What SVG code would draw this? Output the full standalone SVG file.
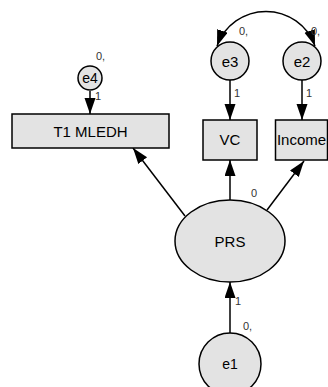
<svg xmlns="http://www.w3.org/2000/svg" width="328" height="387" viewBox="0 0 328 387">
<defs>
<style>
.shape{fill:#e3e3e3;stroke:#000;stroke-width:1.5}
.lbl{font-family:"Liberation Sans",Arial,sans-serif;font-size:15px;fill:#000;text-anchor:middle}
.sm{font-family:"Liberation Sans",Arial,sans-serif;font-size:11px;fill:#333}
.conn{fill:none;stroke:#000;stroke-width:1.5}
</style>
<marker id="ah" markerUnits="userSpaceOnUse" markerWidth="17" markerHeight="12" refX="16" refY="5.5" orient="auto-start-reverse" viewBox="0 0 17 12">
<path d="M0,0 L16,5.5 L0,11 z" fill="#000"/>
</marker>
</defs>
<g id="connectors">
<line class="conn" x1="90" y1="91" x2="90" y2="114" marker-end="url(#ah)"/>
<line class="conn" x1="230" y1="80" x2="230" y2="120" marker-end="url(#ah)"/>
<line class="conn" x1="302" y1="80" x2="302" y2="120" marker-end="url(#ah)"/>
<line class="conn" x1="230" y1="200" x2="230" y2="160" marker-end="url(#ah)"/>
<line class="conn" x1="267" y1="210" x2="304" y2="161" marker-end="url(#ah)"/>
<line class="conn" x1="185" y1="216" x2="133" y2="148" marker-end="url(#ah)"/>
<line class="conn" x1="230" y1="333" x2="230" y2="282" marker-end="url(#ah)"/>
<path class="conn" d="M217,46 A52,52 0 0 1 315,46" marker-start="url(#ah)" marker-end="url(#ah)"/>
</g>
<g id="T1MLEDH"><rect class="shape" x="12" y="114" width="157" height="34"/><text class="lbl" x="90.5" y="136.5">T1 MLEDH</text></g>
<g id="VC"><rect class="shape" x="203" y="120" width="54" height="40"/><text class="lbl" x="230" y="145">VC</text></g>
<g id="Income"><rect class="shape" x="275.5" y="120" width="52" height="40"/><text class="lbl" x="301.5" y="145">Income</text></g>
<g id="PRS"><ellipse class="shape" cx="230" cy="241" rx="55" ry="41"/><text class="lbl" x="230" y="247">PRS</text></g>
<g id="e4"><circle class="shape" cx="90" cy="78" r="12"/><text class="lbl" x="90" y="83" style="font-size:14px">e4</text><text class="sm" x="96" y="60">0,</text><text class="sm" x="95" y="100">1</text></g>
<g id="e3"><circle class="shape" cx="230" cy="61" r="19"/><text class="lbl" x="230" y="66.5">e3</text><text class="sm" x="239" y="35">0,</text><text class="sm" x="234" y="97">1</text></g>
<g id="e2"><circle class="shape" cx="302" cy="61" r="19"/><text class="lbl" x="302" y="66.5">e2</text><text class="sm" x="311" y="35">0,</text><text class="sm" x="306" y="97">1</text></g>
<g id="e1"><circle class="shape" cx="230" cy="364" r="31"/><text class="lbl" x="230" y="369" style="font-size:14px">e1</text><text class="sm" x="243" y="330">0,</text><text class="sm" x="235" y="305">1</text></g>
<text class="sm" x="251" y="197">0</text>
</svg>
